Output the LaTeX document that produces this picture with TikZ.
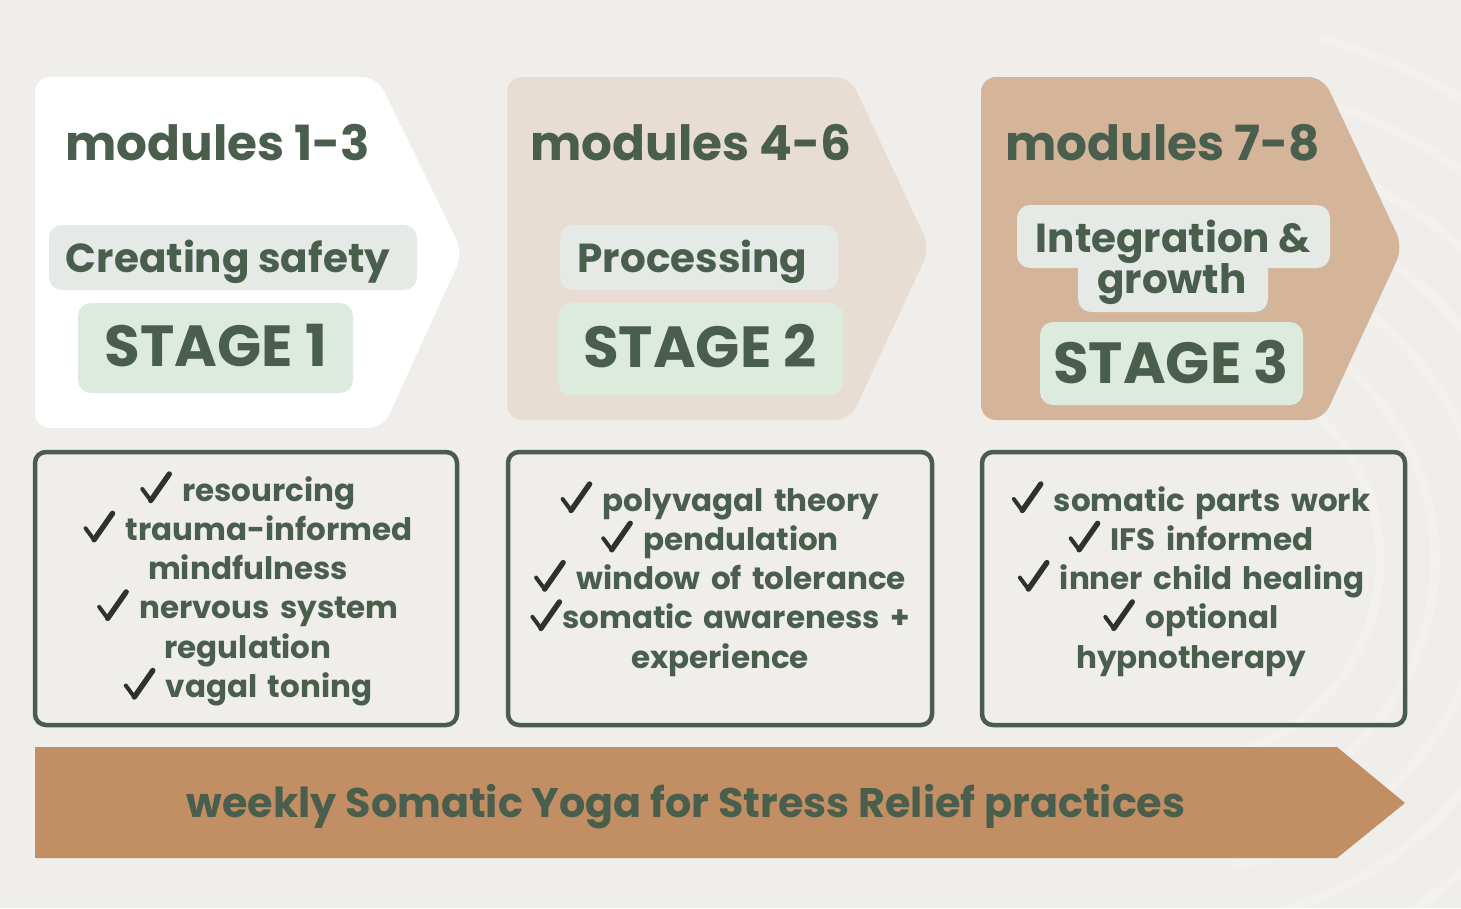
\documentclass[tikz,border=0pt]{standalone}
\usepackage{fontspec}
\setmainfont{Poppins}
\definecolor{bgc}{RGB}{240,238,234}
\definecolor{chevB}{RGB}{232,221,211}
\definecolor{chevC}{RGB}{212,181,154}
\definecolor{pillgray}{RGB}{229,234,230}
\definecolor{pillgreen}{RGB}{221,235,223}
\definecolor{tgreen}{RGB}{74,94,78}
\definecolor{boxc}{RGB}{74,92,80}
\definecolor{checkc}{RGB}{45,50,48}
\definecolor{arrowc}{RGB}{194,142,99}
\newcommand\ck{\tikz[baseline=0pt,x=1pt,y=1pt]{\draw[checkc,line width=4pt,line cap=round] (1,12) -- (9.5,0.5);\draw[checkc,line width=5.4pt,line cap=round] (9.5,0.5) -- (28,27);}}
\begin{document}
\begin{tikzpicture}[x=1pt,y=-1pt,
  head/.style={inner sep=0pt,text=tgreen,font=\bfseries\fontsize{48.5}{52}\selectfont},
  sub/.style={inner sep=0pt,text=tgreen,font=\bfseries\fontsize{40.5}{43}\selectfont},
  stagetxt/.style={inner sep=0pt,text=tgreen,font=\bfseries\fontsize{58}{62}\selectfont},
  pill/.style={rectangle,rounded corners=13pt,inner sep=0pt,draw=none},
  listbox/.style={rectangle,rounded corners=11pt,draw=boxc,line width=4.5pt,inner sep=0pt,minimum height=273pt},
  listtext/.style={inner sep=0pt,text=tgreen,align=center,text width=420pt,font=\bfseries\fontsize{31}{39.3}\selectfont},
  bottomtxt/.style={inner sep=0pt,text=tgreen,font=\bfseries\fontsize{41.3}{45}\selectfont}]
\useasboundingbox (0,0) rectangle (1461,908);
\fill[bgc] (0,0) rectangle (1461,908);
% faint background swirls
\begin{scope}
\clip (1000,0) rectangle (1461,908);
\foreach \r in {200,255,310,365,420,480,540}
  \draw[white,opacity=0.2,line width=9pt] (1180,560) ++(-75:\r) arc[start angle=-75,end angle=80,radius=\r];
\end{scope}
% chevrons
\fill[white,rounded corners=15pt] (35,77) -- (377,77) -- (463,253) -- (383,428) -- (35,428) -- cycle;
\fill[chevB,rounded corners=15pt] (507,77) -- (850,77) -- (930,248) -- (850,420) -- (507,420) -- cycle;
\fill[chevC,rounded corners=15pt] (981,77) -- (1323,77) -- (1403,247) -- (1323,420) -- (981,420) -- cycle;
% stage 1
\node[head,anchor=base west] (m1) at (65,160) {modules 1-3};
\node[pill,fill=pillgray,minimum width=368pt,minimum height=65pt] (p1) at (233,257.5) {};
\node[sub,anchor=base] (s1) at (228,272) {Creating safety};
\node[pill,fill=pillgreen,minimum width=275pt,minimum height=90pt] (g1) at (215.5,348) {};
\node[stagetxt,anchor=base] (st1) at (216,366.5) {STAGE 1};
% stage 2
\node[head,anchor=base west] (m2) at (530,160) {modules 4-6};
\node[pill,fill=pillgray,minimum width=278pt,minimum height=65pt] (p2) at (699,257.5) {};
\node[sub,anchor=base] (s2) at (692.5,272) {Processing};
\node[pill,fill=pillgreen,minimum width=285pt,minimum height=92pt] (g2) at (700.5,349) {};
\node[stagetxt,anchor=base] (st2) at (700,367.5) {STAGE 2};
% stage 3
\node[head,anchor=base west] (m3) at (1005,160) {modules 7-8};
\node[pill,fill=pillgray,minimum width=313pt,minimum height=63pt] (p3a) at (1173.5,236.5) {};
\node[pill,fill=pillgray,minimum width=190pt,minimum height=62pt] (p3b) at (1173,281) {};
\node[sub,anchor=base] (s3a) at (1173.5,252) {Integration \&};
\node[sub,anchor=base] (s3b) at (1172,293) {growth};
\node[pill,fill=pillgreen,minimum width=263pt,minimum height=83pt] (g3) at (1171.5,363.5) {};
\node[stagetxt,anchor=base] (st3) at (1171,383) {STAGE 3};
% list boxes
\node[listbox,minimum width=422pt] (b1) at (246,588.5) {};
\node[listbox,minimum width=424pt] (b2) at (720,588.5) {};
\node[listbox,minimum width=423pt] (b3) at (1193.5,588.5) {};
\node[listtext,anchor=base] (t1) at (248,501) {\ck{} resourcing\\\ck{} trauma-informed\\mindfulness\\\ck{} nervous system\\regulation\\\ck{} vagal toning};
\node[listtext,anchor=base] (t2) at (720,511) {\ck{} polyvagal theory\\\ck{} pendulation\\\ck{} window of tolerance\\\ck{}somatic awareness +\\experience};
\node[listtext,anchor=base] (t3) at (1191,511) {\ck{} somatic parts work\\\ck{} IFS informed\\\ck{} inner child healing\\\ck{} optional\\hypnotherapy};
% bottom arrow
\fill[arrowc] (35,747) -- (1337,747) -- (1405,803) -- (1337,858) -- (35,858) -- cycle;
\node[bottomtxt,anchor=base] (bt) at (686,817) {weekly Somatic Yoga for Stress Relief practices};
\end{tikzpicture}
\end{document}
